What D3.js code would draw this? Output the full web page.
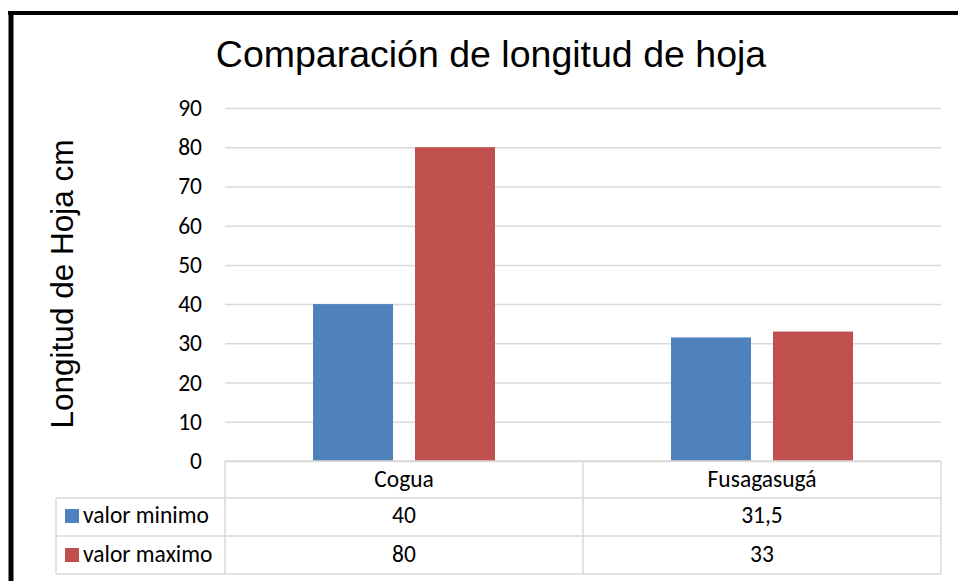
<!DOCTYPE html>
<html>
<head>
<meta charset="utf-8">
<script src="https://cdn.jsdelivr.net/npm/d3@7"></script>
<style>
  html, body { margin: 0; padding: 0; background: #fff; }
  svg { display: block; }
</style>
</head>
<body>
<svg id="chart" width="958" height="581"></svg>
<script>
const categories = ["Cogua", "Fusagasugá"];
const seriesNames = ["valor minimo", "valor maximo"];
const valorMinimo = [40, 31.5];
const valorMaximo = [80, 33];
const valueLabels = [["40", "31,5"], ["80", "33"]];
const yTicks = [0, 10, 20, 30, 40, 50, 60, 70, 80, 90];
const colors = ["#4F81BD", "#C0504D"];
const chartTitle = "Comparación de longitud de hoja";
const yTitle = "Longitud de Hoja cm";

const seriesValues = [valorMinimo, valorMaximo];
const svg = d3.select("#chart");
const tableFont = "Carlito, Calibri, Lato, sans-serif";
const gridColor = "#d9d9d9";
const tableSize = 23.5;

const plotLeft = 225, plotRight = 941, plotTop = 108, plotBottom = 461;
const legendLeft = 56;
const rowY = [461, 498, 536, 574];

const x0 = d3.scaleBand().domain(categories).range([plotLeft, plotRight]).padding(0);
const x1 = d3.scaleBand().domain(seriesNames).range([0, x0.bandwidth()])
  .paddingInner(0.2157).paddingOuter(0.8627);
const y = d3.scaleLinear().domain([0, 90]).range([plotBottom, plotTop]);

// frame (black border at top and left)
svg.append("line").attr("x1", 8).attr("x2", 958).attr("y1", 13).attr("y2", 13)
  .attr("stroke", "#000").attr("stroke-width", 4);
svg.append("line").attr("x1", 11).attr("x2", 11).attr("y1", 11).attr("y2", 581)
  .attr("stroke", "#000").attr("stroke-width", 5);

// title
svg.append("text").attr("x", 491).attr("y", 67).attr("text-anchor", "middle")
  .attr("font-family", "'Liberation Sans', Arial, sans-serif").attr("font-size", 37.5)
  .attr("fill", "#000").text(chartTitle);

// y axis title
svg.append("text").attr("transform", "translate(73,284) rotate(-90)")
  .attr("text-anchor", "middle")
  .attr("font-family", "'Liberation Sans', Arial, sans-serif").attr("font-size", 31.5)
  .attr("fill", "#000").text(yTitle);

// gridlines
const grid = svg.append("g").attr("transform", `translate(${plotLeft},0)`)
  .call(d3.axisLeft(y).tickValues(yTicks).tickSize(-(plotRight - plotLeft)).tickFormat(""));
grid.select(".domain").remove();
grid.selectAll("line").attr("stroke", gridColor).attr("stroke-width", 1.5);

// tick labels
const axis = svg.append("g").attr("transform", "translate(202,0)")
  .call(d3.axisLeft(y).tickValues(yTicks).tickSize(0).tickPadding(0).tickFormat(d3.format("d")));
axis.select(".domain").remove();
axis.selectAll("text").attr("font-family", tableFont).attr("font-size", tableSize).attr("fill", "#000");

// bars
seriesNames.forEach((s, si) => {
  svg.append("g").selectAll("rect").data(categories).join("rect")
    .attr("x", (c) => x0(c) + x1(s))
    .attr("width", x1.bandwidth())
    .attr("y", (c, i) => y(seriesValues[si][i]))
    .attr("height", (c, i) => y(0) - y(seriesValues[si][i]))
    .attr("fill", colors[si]);
});

// data table
const tbl = svg.append("g").attr("stroke", gridColor).attr("stroke-width", 1.5).attr("fill", "none");
tbl.append("line").attr("x1", plotLeft).attr("x2", plotRight).attr("y1", rowY[0]).attr("y2", rowY[0]);
for (let r = 1; r < rowY.length; r++) {
  tbl.append("line").attr("x1", legendLeft).attr("x2", plotRight).attr("y1", rowY[r]).attr("y2", rowY[r]);
}
tbl.append("line").attr("x1", legendLeft).attr("x2", legendLeft).attr("y1", rowY[1]).attr("y2", rowY[3]);
const colEdges = [plotLeft].concat(categories.map(c => x0(c) + x0.bandwidth()));
colEdges.forEach(xv => {
  tbl.append("line").attr("x1", xv).attr("x2", xv).attr("y1", rowY[0]).attr("y2", rowY[3]);
});

// category header
svg.append("g").selectAll("text").data(categories).join("text")
  .attr("x", c => x0(c) + x0.bandwidth() / 2).attr("y", 487)
  .attr("text-anchor", "middle").attr("font-family", tableFont).attr("font-size", tableSize)
  .attr("fill", "#000").text(c => c);

// rows
const rowBase = [523, 562];
seriesNames.forEach((s, si) => {
  const g = svg.append("g");
  g.append("rect").attr("x", 65).attr("y", rowBase[si] - 14).attr("width", 14).attr("height", 14)
    .attr("fill", colors[si]);
  g.append("text").attr("x", 83).attr("y", rowBase[si])
    .attr("font-family", tableFont).attr("font-size", tableSize).attr("fill", "#000").text(s);
  g.selectAll("text.v").data(categories).join("text").attr("class", "v")
    .attr("x", c => x0(c) + x0.bandwidth() / 2).attr("y", rowBase[si])
    .attr("text-anchor", "middle").attr("font-family", tableFont).attr("font-size", tableSize)
    .attr("fill", "#000").text((c, i) => valueLabels[si][i]);
});
</script>
</body>
</html>
